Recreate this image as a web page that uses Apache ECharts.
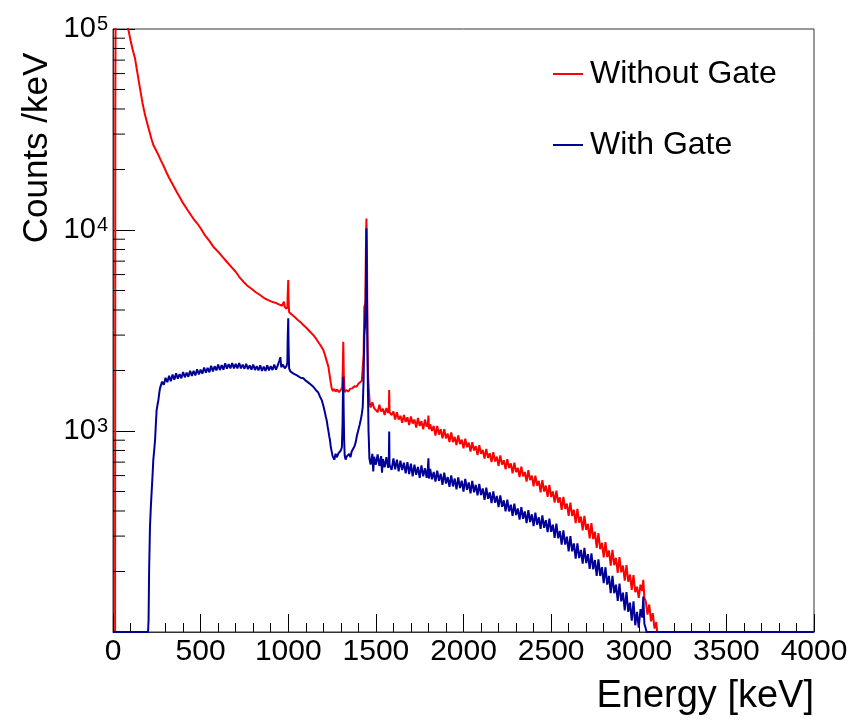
<!DOCTYPE html>
<html>
<head>
<meta charset="utf-8">
<script src="https://cdn.jsdelivr.net/npm/echarts@6/dist/echarts.min.js"></script>
<style>html,body{margin:0;padding:0;background:#fff}#c{width:852px;height:722px}</style>
</head>
<body>
<div id="c"></div>
<script>
// ---- Data (energy in keV, counts per keV) ----
const seriesNames = ['Without Gate', 'With Gate'];
const xTicks = [0, 500, 1000, 1500, 2000, 2500, 3000, 3500, 4000];
const yTicks = [100, 1000, 10000, 100000];
const yMinorTicks = [200,300,400,500,600,700,800,900,2000,3000,4000,5000,6000,7000,8000,9000,20000,30000,40000,50000,60000,70000,80000,90000];

// Without Gate (red)
const energyRed = [0,12,13,17,18,50,87,100,112,125,140,154,168,183,197,210,220,230,245,260,273,287,303,320,340,363,380,400,430,458,480,500,525,553,575,600,625,649,675,700,720,744,765,790,815,839,860,880,905,934,950,965,975,980,990,995,997,1000,1002,1005,1020,1035,1050,1070,1086,1100,1115,1130,1143,1160,1175,1190,1200,1210,1220,1229,1236,1242,1248,1255,1262,1270,1278,1290,1300,1308,1311,1314,1317,1322,1330,1343,1352,1365,1378,1390,1400,1410,1420,1425,1430,1434,1440,1443,1446,1449,1452,1455,1458,
1465,1470,1480,1490,1500,1510,1520,1530,1540,1550,1560,1570,1574,1576,1578,1590,1600,1610,1620,1630,1640,1650,1660,1670,1680,1690,1700,1710,1720,1730,1740,1750,1760,1770,1780,1790,1797,1800,1803,1810,1820,1830,1840,1850,1860,1870,1880,1890,1900,1910,1920,1930,1940,1950,1960,1970,1980,1990,2000,2010,2020,2030,2040,2050,2060,2070,2080,2090,2100,2110,2120,2130,2140,2150,2160,2170,2180,2190,2200,2210,2220,2230,2240,2250,2260,2270,2280,2290,2300,2310,2320,2330,2340,2350,2360,2370,2380,2390,2400,2410,2420,2430,2440,2450,2460,2470,2480,2490,2500,2510,2520,2530,2540,2550,2560,2570,2580,2590,2600,2610,2620,2630,2640,2650,2660,2670,2680,2690,2700,2710,2720,2730,2740,2750,2760,2770,2780,2790,2800,2810,2820,2830,2840,2850,2860,2870,2880,2890,2900,2910,2920,2930,2940,2950,2960,2970,2980,2990,3000,3010,3020,3026,3032,3040,3050,3060,3070,3080,3090,3100,3105,4000];
const countsRed = [100,100,37000,37000,1000000,300000,100000,88000,79000,71800,60000,50700,43000,37300,33500,30500,28300,26500,25000,23500,22200,21000,19500,18200,16900,15500,14600,13600,12400,11400,10800,10200,9400,8750,8200,7800,7350,6950,6550,6200,5850,5530,5300,5100,4900,4750,4600,4500,4400,4320,4250,4200,4400,4150,4050,4150,4800,5640,4500,3900,3800,3700,3600,3480,3370,3280,3180,3080,3000,2870,2740,2620,2530,2380,2220,2090,1900,1750,1630,1580,1620,1570,1610,1560,1600,1650,2000,2780,1900,1560,1600,1570,1620,1630,1670,1660,1720,1700,1780,1790,2400,4150,4300,8000,11400,8000,3000,1940,1700,
1370,1310,1390,1300,1330,1240,1350,1250,1290,1200,1300,1230,1280,1600,1240,1200,1250,1140,1240,1140,1190,1100,1200,1110,1170,1070,1180,1090,1140,1040,1160,1060,1120,1020,1140,1050,1100,1195,1020,1080,1000,1060,950,1060,960,1020,920,1020,920,970,880,985,880,935,850,950,860,905,820,915,830,875,790,880,800,840,760,850,770,805,730,815,735,775,700,785,705,745,670,755,680,715,645,725,655,690,615,695,625,655,590,665,595,625,560,638,570,600,530,600,535,565,495,570,500,535,470,540,470,500,440,505,440,468,405,470,410,435,378,440,378,405,348,410,350,375,320,378,322,345,292,348,290,315,262,310,258,278,235,280,236,254,214,256,215,234,197,236,198,214,180,215,178,193,162,192,158,168,148,172,160,182,148,142,122,137,113,124,104,112,100,100];

// With Gate (blue)
const energyBlue = [0,200,203,206,211,216,221,226,230,235,240,245,249,254,259,263,268,280,290,300,310,320,330,340,350,360,370,380,390,400,410,420,430,440,450,460,470,480,490,500,510,520,530,540,550,560,570,580,590,600,610,620,630,640,650,660,670,680,690,700,710,720,730,740,750,760,770,780,790,800,810,820,830,840,850,860,870,880,890,900,910,920,930,940,950,955,960,970,980,990,995,997,1000,1002,1005,1012,1020,1030,1040,1050,1060,1070,1086,1100,1115,1130,1143,1157,1170,1180,1191,1200,1208,1214,1219,1225,1230,1234,1238,1243,1248,1253,1257,1263,1270,1278,1286,1294,1300,1306,1310,1312,1314,1316,1319,1322,1327,1333,1340,1348,1355,1362,1371,1378,1385,1392,1400,1408,1415,1420,1425,1430,1434,1438,1442,1446,1449,1452,1455,1458,
1460,1463,1470,1480,1485,1490,1500,1510,1520,1530,1535,1540,1550,1560,1570,1574,1576,1578,1590,1600,1610,1620,1630,1640,1650,1660,1670,1680,1690,1700,1710,1720,1730,1740,1750,1760,1770,1780,1790,1797,1800,1803,1810,1820,1830,1840,1850,1860,1870,1880,1890,1900,1910,1920,1930,1940,1950,1960,1970,1980,1990,2000,2010,2020,2030,2040,2050,2060,2070,2080,2090,2100,2110,2120,2130,2140,2150,2160,2170,2180,2190,2200,2210,2220,2230,2240,2250,2260,2270,2280,2290,2300,2310,2320,2330,2340,2350,2360,2370,2380,2390,2400,2410,2420,2430,2440,2450,2460,2470,2480,2490,2500,2510,2520,2530,2540,2550,2560,2570,2580,2590,2600,2610,2620,2630,2640,2650,2660,2670,2680,2690,2700,2710,2720,2730,2740,2750,2760,2770,2780,2790,2800,2810,2820,2830,2840,2850,2860,2870,2880,2890,2900,2910,2920,2930,2940,2950,2960,2970,2980,2990,3000,3010,3020,3026,3032,3040,3045,3050,4000];
const countsBlue = [100,100,115,200,334,420,508,610,718,800,902,1100,1270,1350,1425,1520,1630,
1760,1700,1840,1750,1880,1770,1910,1800,1935,1820,1920,1830,1965,1850,1950,1860,1995,1880,1990,1890,2030,1910,2020,1930,2070,1950,2060,1960,2110,1980,2100,2000,2140,2010,2130,2020,2170,2040,2150,2050,2180,2050,2160,2050,2180,2050,2140,2040,2160,2030,2120,2020,2140,2010,2100,2000,2120,1990,2090,1990,2120,2000,2100,2010,2140,2020,2120,
2250,2330,2080,2140,2050,2100,2200,2900,3640,2600,2050,1980,2000,1930,1940,1890,1880,1840,1830,1780,1740,1700,1660,1600,1560,1490,1425,1340,1250,1180,1135,1050,990,940,902,830,790,750,745,720,770,740,774,760,800,830,1100,1500,1863,1300,900,760,720,745,730,770,740,790,774,840,880,950,1012,1080,1150,1220,1320,1800,3000,3300,4500,10200,5000,2500,1540,1000,
900,731,680,770,630,745,680,765,670,750,620,725,660,740,655,715,993,680,640,730,645,720,630,712,640,695,615,700,610,688,595,680,605,662,585,675,595,652,585,660,731,580,648,575,625,560,635,565,612,540,620,548,590,528,602,530,580,512,588,520,566,500,578,510,555,490,565,495,540,478,545,480,518,455,522,460,495,438,500,440,475,418,478,420,452,398,455,398,430,378,435,382,412,362,418,366,398,348,404,352,385,336,392,342,372,326,380,330,360,314,366,315,342,294,346,293,318,272,320,272,298,252,300,252,276,232,276,233,256,219,262,220,244,206,246,205,228,190,230,190,210,175,210,172,190,156,190,156,172,143,174,142,157,128,158,126,140,114,142,108,126,105,130,118,150,110,104,100,100,100];

const redData = energyRed.map((e, i) => [e, countsRed[i]]);
const blueData = energyBlue.map((e, i) => [e, countsBlue[i]]);

const chart = echarts.init(document.getElementById('c'), null, {renderer: 'canvas'});
const sans = "'Liberation Sans', Arial, sans-serif";

chart.setOption({
  animation: false,
  backgroundColor: '#ffffff',
  grid: {left: 113, right: 38, top: 29, bottom: 90, show: true, borderColor: '#333', borderWidth: 1, backgroundColor: 'transparent'},
  legend: {
    data: seriesNames,
    orient: 'vertical',
    left: 548, top: 53,
    itemWidth: 30, itemHeight: 2, itemGap: 39,
    icon: 'rect',
    textStyle: {fontFamily: sans, fontSize: 32, color: '#000', padding: [0, 0, 0, 2], lineHeight: 32},
    selectedMode: false
  },
  xAxis: {
    type: 'value', min: 0, max: 4000, interval: 500,
    axisLine: {show: true, lineStyle: {color: '#333', width: 1}},
    axisTick: {show: true, inside: true, length: 18, lineStyle: {color: '#000'}},
    minorTick: {show: true, splitNumber: 5, length: 9, lineStyle: {color: '#000'}},
    splitLine: {show: false},
    axisLabel: {fontFamily: sans, fontSize: 30, color: '#000', margin: 5, formatter: v => String(v)}
  },
  yAxis: {
    type: 'log', logBase: 10, min: 100, max: 100000,
    axisLine: {show: true, lineStyle: {color: '#333', width: 1}},
    axisTick: {show: true, inside: true, length: 22, lineStyle: {color: '#000'}},
    splitLine: {show: false},
    axisLabel: {
      margin: 5,
      formatter: v => {
        const p = Math.round(Math.log10(v));
        if (p <= 2) return '';
        return '{b|10}{s|' + p + '}';
      },
      rich: {
        b: {fontFamily: sans, fontSize: 29, lineHeight: 29, color: '#000', padding: [9, 0, 0, 0], verticalAlign: 'bottom'},
        s: {fontFamily: sans, fontSize: 20, lineHeight: 20, color: '#000', verticalAlign: 'top', padding: [0, 0, 0, 1]}
      }
    }
  },
  graphic: [
    {type: 'text', x: 814, y: 697, style: {text: 'Energy [keV]', fontFamily: sans, fontSize: 38, fill: '#000', align: 'right', verticalAlign: 'middle'}},
    {type: 'text', x: 37, y: 148, rotation: Math.PI / 2, style: {text: 'Counts /keV', fontFamily: sans, fontSize: 35, fill: '#000', align: 'center', verticalAlign: 'middle'}}
  ],
  series: [
    {name: seriesNames[0], type: 'line', data: redData, symbol: 'none', clip: true,
      lineStyle: {color: '#ff0000', width: 2}, itemStyle: {color: '#ff0000'}, z: 2},
    {name: seriesNames[1], type: 'line', data: blueData, symbol: 'none', clip: true,
      lineStyle: {color: '#000099', width: 2}, itemStyle: {color: '#000099'}, z: 3},
    {name: 'minorY', type: 'custom', silent: true, z: 5, clip: false,
      data: yMinorTicks.map(v => [0, v]),
      renderItem: (params, api) => {
        const p = api.coord([0, api.value(1)]);
        return {type: 'line', shape: {x1: p[0], y1: p[1], x2: p[0] + 12, y2: p[1]}, style: {stroke: '#000', lineWidth: 1}};
      }
    }
  ]
});
</script>
</body>
</html>
